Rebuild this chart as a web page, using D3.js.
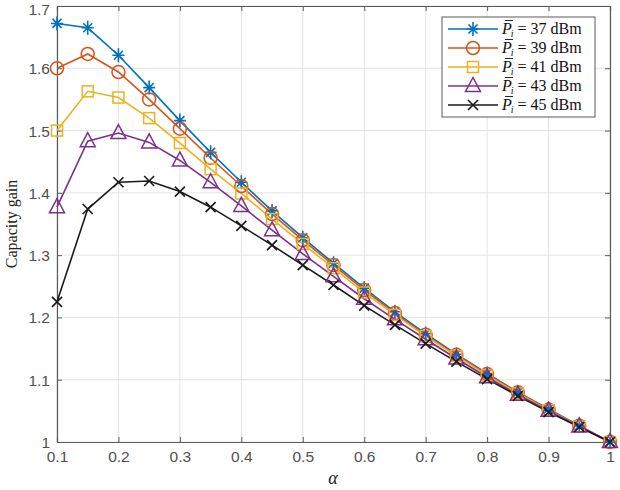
<!DOCTYPE html>
<html><head><meta charset="utf-8">
<script src="https://cdn.jsdelivr.net/npm/d3@7"></script>
<style>body{margin:0;background:#fff;}</style>
</head><body>
<svg id="c" width="620" height="490"></svg>
<script>
const alpha = [0.1,0.15,0.2,0.25,0.3,0.35,0.4,0.45,0.5,0.55,0.6,0.65,0.7,0.75,0.8,0.85,0.9,0.95,1.0];
const p37 = [1.672,1.665,1.621,1.569,1.516,1.465,1.417,1.371,1.328,1.287,1.247,1.209,1.174,1.141,1.110,1.080,1.053,1.026,1.0];
const p39 = [1.600,1.623,1.594,1.550,1.503,1.456,1.411,1.366,1.324,1.284,1.244,1.207,1.172,1.140,1.109,1.080,1.052,1.026,1.0];
const p41 = [1.500,1.563,1.553,1.520,1.480,1.438,1.399,1.358,1.318,1.279,1.240,1.204,1.170,1.138,1.107,1.078,1.051,1.025,1.0];
const p43 = [1.377,1.483,1.496,1.481,1.452,1.417,1.379,1.340,1.302,1.266,1.230,1.197,1.165,1.134,1.104,1.076,1.050,1.025,1.0];
const p45 = [1.225,1.374,1.417,1.419,1.402,1.377,1.347,1.316,1.284,1.252,1.219,1.188,1.158,1.129,1.101,1.074,1.048,1.024,1.0];
const seriesNames = ["37","39","41","43","45"];
const seriesColors = ["#0072BD","#D95319","#EDB120","#7E2F8E","#1a1a1a"];
const seriesMarkers = ["star","circle","square","triangle","x"];
const xTicks = [0.1,0.2,0.3,0.4,0.5,0.6,0.7,0.8,0.9,1];
const yTicks = [1,1.1,1.2,1.3,1.4,1.5,1.6,1.7];
const allSeries = [p37,p39,p41,p43,p45];

const svg = d3.select("#c");
const L=57, R=610, T=6, B=442;
const x = d3.scaleLinear().domain([0.1,1]).range([L,R]);
const y = d3.scaleLinear().domain([1,1.7]).range([B,T]);
const axisCol = "#5a5a5a", tickText="#505050";

// grid
const g = svg.append("g");
g.selectAll(".gx").data(xTicks).join("line").attr("x1",d=>x(d)).attr("x2",d=>x(d)).attr("y1",T).attr("y2",B).attr("stroke","#e3e3e3").attr("stroke-width",1);
g.selectAll(".gy").data(yTicks).join("line").attr("y1",d=>y(d)).attr("y2",d=>y(d)).attr("x1",L).attr("x2",R).attr("stroke","#e3e3e3").attr("stroke-width",1);

// axes
const xa = svg.append("g").attr("transform",`translate(0,${B})`).call(d3.axisBottom(x).tickValues(xTicks).tickSize(-5).tickPadding(9).tickFormat(d3.format("")));
const ya = svg.append("g").attr("transform",`translate(${L},0)`).call(d3.axisLeft(y).tickValues(yTicks).tickSize(-5).tickPadding(7).tickFormat(d3.format("")));
const xt = svg.append("g").attr("transform",`translate(0,${T})`).call(d3.axisTop(x).tickValues(xTicks).tickSize(-5).tickFormat(""));
const yr = svg.append("g").attr("transform",`translate(${R},0)`).call(d3.axisRight(y).tickValues(yTicks).tickSize(-5).tickFormat(""));
[xa,ya,xt,yr].forEach(a=>{
  a.select(".domain").attr("stroke",axisCol).attr("stroke-width",1.2);
  a.selectAll(".tick line").attr("stroke",axisCol);
  a.selectAll("text").attr("fill",tickText).style("font-family","Liberation Sans, Arial, sans-serif").style("font-size","15.5px");
});
ya.selectAll("text").attr("dy","0.35em");
ya.selectAll(".tick").filter(d=>d===1.7).select("text").attr("dy","0.55em");

// lines
const line = d3.line().x((d,i)=>x(alpha[i])).y(d=>y(d));
function marker(sel, type, color){
  if(type==="circle") sel.append("circle").attr("r",6.5).attr("fill","none").attr("stroke",color).attr("stroke-width",1.5);
  else if(type==="square") sel.append("rect").attr("x",-5.5).attr("y",-5.5).attr("width",11).attr("height",11).attr("fill","none").attr("stroke",color).attr("stroke-width",1.5);
  else if(type==="triangle") sel.append("path").attr("d","M0,-8.5L7.5,5.5L-7.5,5.5Z").attr("fill","none").attr("stroke",color).attr("stroke-width",1.5);
  else if(type==="x") sel.append("path").attr("d",`M-5,-5L5,5M-5,5L5,-5`).attr("stroke",color).attr("stroke-width",1.6);
  else if(type==="star") sel.append("path").attr("d",`M-6,0L6,0M0,-7L0,7M-4.5,-4.5L4.5,4.5M-4.5,4.5L4.5,-4.5`).attr("stroke",color).attr("stroke-width",1.6);
}
allSeries.forEach((vals,k)=>{
  svg.append("path").datum(vals).attr("d",line).attr("fill","none").attr("stroke",seriesColors[k]).attr("stroke-width",1.6);
});
allSeries.forEach((vals,k)=>{
  vals.forEach((v,i)=>{
    const m = svg.append("g").attr("transform",`translate(${x(alpha[i])},${y(v)})`);
    marker(m, seriesMarkers[k], seriesColors[k]);
  });
});

// legend
const lg = svg.append("g");
lg.append("rect").attr("x",442).attr("y",17).attr("width",153).attr("height",100).attr("fill","#fff").attr("stroke","#5a5a5a").attr("stroke-width",1);
seriesNames.forEach((n,k)=>{
  const yy = 29 + k*19;
  lg.append("line").attr("x1",448).attr("x2",498).attr("y1",yy).attr("y2",yy).attr("stroke",seriesColors[k]).attr("stroke-width",1.6);
  const m = lg.append("g").attr("transform",`translate(473,${yy})`);
  marker(m, seriesMarkers[k], seriesColors[k]);
  const t = lg.append("text").attr("x",502).attr("y",yy+5).attr("fill","#111").style("font-family","Liberation Serif, Times New Roman, serif").style("font-size","16px");
  t.append("tspan").style("font-style","italic").text("P");
  t.append("tspan").style("font-style","italic").style("font-size","10px").attr("dy",3).attr("dx",-1).text("i");
  t.append("tspan").attr("dy",-3).attr("dx",4).text("= " + n + " dBm");
  lg.append("line").attr("x1",505).attr("x2",513).attr("y1",yy-8.5).attr("y2",yy-8.5).attr("stroke","#111").attr("stroke-width",0.9);
});

// axis labels
svg.append("text").attr("x",333).attr("y",484).attr("text-anchor","middle").style("font-family","Liberation Serif, serif").style("font-style","italic").style("font-size","18px").attr("fill","#222").text("α");
svg.append("text").attr("transform","translate(17,224) rotate(-90)").attr("text-anchor","middle").style("font-family","Liberation Serif, serif").style("font-size","16px").attr("fill","#222").text("Capacity gain");
</script>
</body></html>
